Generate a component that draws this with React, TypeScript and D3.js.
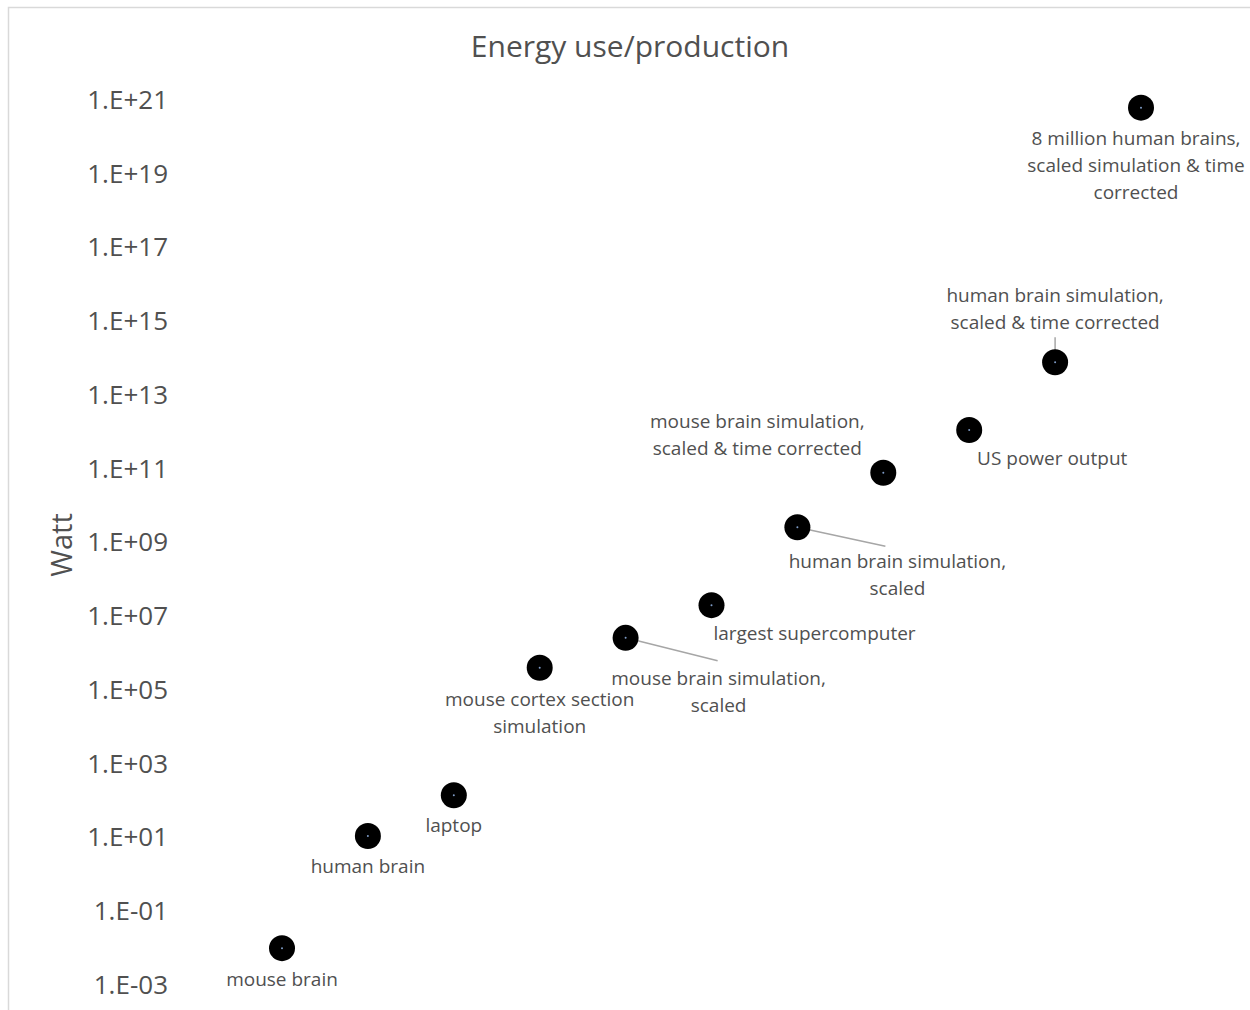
import React, { useEffect, useRef } from 'react';
import * as d3 from 'd3';

// data
const labels: string[][] = [
  ['mouse brain'],
  ['human brain'],
  ['laptop'],
  ['mouse cortex section', 'simulation'],
  ['mouse brain simulation,', 'scaled'],
  ['largest supercomputer'],
  ['human brain simulation,', 'scaled'],
  ['mouse brain simulation,', 'scaled & time corrected'],
  ['US power output'],
  ['human brain simulation,', 'scaled & time corrected'],
  ['8 million human brains,', 'scaled simulation & time', 'corrected'],
];
const xValues = [1, 2, 3, 4, 5, 6, 7, 8, 9, 10, 11];
const watts = [0.01, 11, 140, 4.0e5, 2.6e6, 2.0e7, 2.6e9, 7.8e10, 1.12e12, 7.7e13, 6.2e20];
const tickValues = [1e-3, 1e-1, 1e1, 1e3, 1e5, 1e7, 1e9, 1e11, 1e13, 1e15, 1e17, 1e19, 1e21];

// label placement relative to the point (dx, dy of first line, leader line end or null)
const labelLayout: { dx: number; dy: number; anchor: string; leader: [number, number] | null }[] = [
  { dx: 0, dy: 31, anchor: 'middle', leader: null },
  { dx: 0, dy: 30, anchor: 'middle', leader: null },
  { dx: 0, dy: 30, anchor: 'middle', leader: null },
  { dx: 0, dy: 31, anchor: 'middle', leader: null },
  { dx: 93, dy: 40, anchor: 'middle', leader: [92, 23] },
  { dx: 103, dy: 28, anchor: 'middle', leader: null },
  { dx: 100, dy: 34, anchor: 'middle', leader: [88, 19] },
  { dx: -126, dy: -52, anchor: 'middle', leader: null },
  { dx: 83, dy: 28, anchor: 'middle', leader: null },
  { dx: 0, dy: -67, anchor: 'middle', leader: [0, -25] },
  { dx: -5, dy: 30, anchor: 'middle', leader: null },
];

const W = 1250;
const H = 1010;
const FONT = '"Open Sans", sans-serif';
const GREY = '#505050';

const App = () => {
  const ref = useRef<SVGSVGElement>(null);

  useEffect(() => {
    const svg = d3.select(ref.current);
    svg.selectAll('*').remove();

    svg.append('rect').attr('width', W).attr('height', H).attr('fill', '#fff');

    // chart border (only top and left visible)
    svg.append('path')
      .attr('d', `M8.5,${H} V7.5 H${W}`)
      .attr('fill', 'none')
      .attr('stroke', '#d9d9d9')
      .attr('stroke-width', 1.5);

    const x = d3.scaleLinear().domain([1, 11]).range([282, 1141]);
    const y = d3.scaleLog().domain([1e-3, 1e21]).range([985, 100]);

    svg.append('text')
      .attr('x', 630)
      .attr('y', 57)
      .attr('text-anchor', 'middle')
      .attr('font-family', FONT)
      .attr('font-size', 30)
      .attr('fill', GREY)
      .text('Energy use/production');

    svg.append('text')
      .attr('transform', 'translate(72,545) rotate(-90)')
      .attr('text-anchor', 'middle')
      .attr('font-family', FONT)
      .attr('font-size', 29)
      .attr('fill', GREY)
      .text('Watt');

    // y axis labels, no line or ticks
    const fmt = (v: number) => {
      const e = Math.round(Math.log10(v));
      const s = String(Math.abs(e)).padStart(2, '0');
      return `1.E${e < 0 ? '-' : '+'}${s}`;
    };
    const axis = d3.axisLeft(y).tickValues(tickValues).tickFormat((d) => fmt(+d)).tickSize(0).tickPadding(0);
    const gAxis = svg.append('g').attr('transform', 'translate(168,0)').call(axis);
    gAxis.select('.domain').remove();
    gAxis.selectAll('text')
      .attr('font-family', FONT)
      .attr('font-size', 26)
      .attr('fill', GREY);

    const data = xValues.map((xv, i) => ({ x: xv, v: watts[i], label: labels[i], lay: labelLayout[i] }));

    // leader lines
    svg.append('g')
      .selectAll('line')
      .data(data.filter((d) => d.lay.leader))
      .join('line')
      .attr('x1', (d) => x(d.x))
      .attr('y1', (d) => y(d.v))
      .attr('x2', (d) => x(d.x) + d.lay.leader![0])
      .attr('y2', (d) => y(d.v) + d.lay.leader![1])
      .attr('stroke', '#a6a6a6')
      .attr('stroke-width', 1.5);

    const pts = svg.append('g').selectAll('g').data(data).join('g')
      .attr('transform', (d) => `translate(${x(d.x)},${y(d.v)})`);
    pts.append('circle').attr('r', 13).attr('fill', '#000');
    pts.append('circle').attr('r', 1).attr('fill', '#7f9cc7');

    // data labels
    const lbl = svg.append('g').selectAll('text').data(data).join('text')
      .attr('font-family', FONT)
      .attr('font-size', 19)
      .attr('fill', GREY)
      .attr('text-anchor', (d) => d.lay.anchor)
      .attr('dominant-baseline', 'central');
    lbl.selectAll('tspan')
      .data((d) => d.label.map((t, k) => ({ t, k, d })))
      .join('tspan')
      .attr('x', (e) => x(e.d.x) + e.d.lay.dx)
      .attr('y', (e) => y(e.d.v) + e.d.lay.dy + e.k * 27)
      .text((e) => e.t);
  }, []);

  return (
    <svg ref={ref} width={W} height={H} style={{ position: 'absolute', left: 0, top: 0 }} />
  );
};

export default App;
